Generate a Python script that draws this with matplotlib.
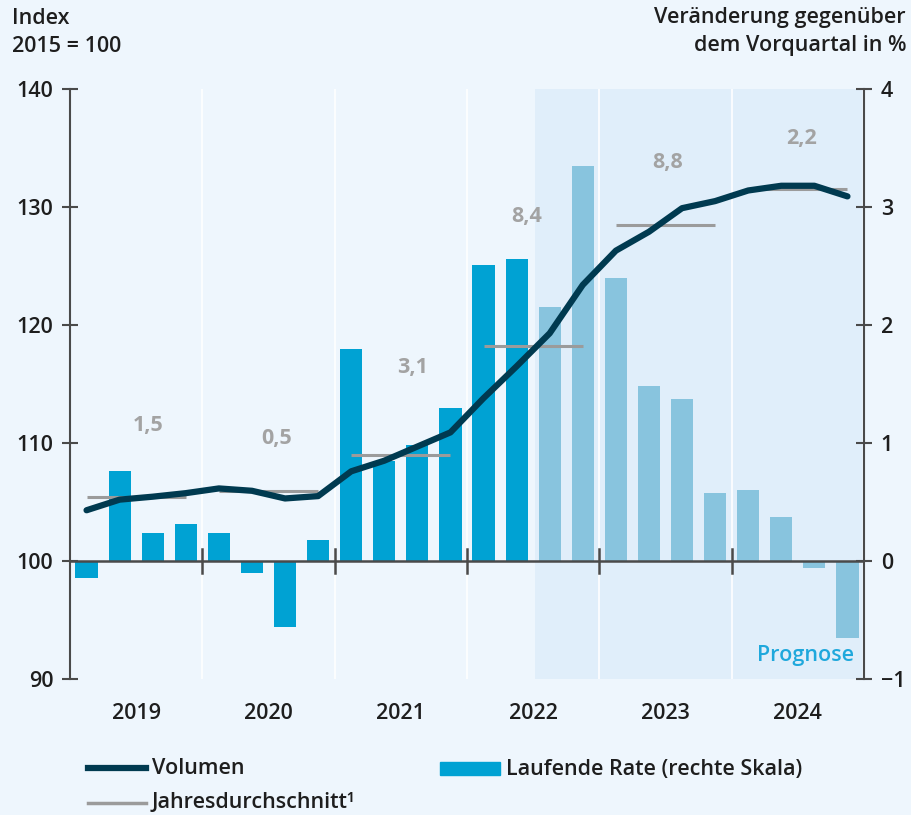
import matplotlib
matplotlib.use("Agg")
import matplotlib.pyplot as plt
from matplotlib.lines import Line2D
from matplotlib.patches import Rectangle
import numpy as np

plt.rcParams['font.family'] = ['Open Sans', 'DejaVu Sans']
W = 'semibold'
FS = 15.5

years = ["2019", "2020", "2021", "2022", "2023", "2024"]
rate = [-0.14, 0.76, 0.24, 0.31,
        0.24, -0.10, -0.56, 0.18,
        1.80, 0.85, 0.98, 1.30,
        2.51, 2.56, 2.15, 3.35,
        2.40, 1.48, 1.37, 0.58,
        0.60, 0.375, -0.06, -0.65]
volumen = [104.3, 105.2, 105.45, 105.75,
           106.15, 105.95, 105.3, 105.5,
           107.6, 108.5, 109.7, 110.9,
           113.8, 116.5, 119.3, 123.4,
           126.3, 127.9, 129.9, 130.5,
           131.4, 131.8, 131.8, 130.9]
jahresdurchschnitt = [105.4, 105.9, 109.0, 118.2, 128.5, 131.5]
jahres_rate = ["1,5", "0,5", "3,1", "8,4", "8,8", "2,2"]
label_level = [111.5, 110.4, 116.4, 129.2, 133.8, 135.8]
label_offset = [0.35, 0.25, 0.35, -0.2, 0.05, 0.1]
forecast_start = 14  # 2022Q3

BG = "#eef6fd"
SHADE = "#e0eefa"
BAR = "#00a2d3"
BAR_F = "#88c4de"
LINE = "#003a50"
AVG = "#9b9b9b"
LBL = "#a3a3a3"
AX = "#4a4a4a"
TXT = "#1e1e1e"

fig = plt.figure(figsize=(9.11, 8.15), dpi=100)
fig.patch.set_facecolor(BG)
ax2 = fig.add_axes([70/911, 1-679/815, (864-70)/911, (679-89)/815])
ax = ax2.twinx()
ax2.yaxis.tick_right()
ax.yaxis.tick_left()
ax.set_zorder(ax2.get_zorder() + 1)
ax.patch.set_visible(False)
ax2.set_facecolor(BG)

n = len(rate)
x = np.arange(n)
ax2.set_xlim(-0.5, n - 0.5)
ax2.set_ylim(-1, 4)
ax.set_ylim(90, 140)

# forecast shading
ax2.axvspan(forecast_start - 0.45, n - 0.55, color=SHADE, zorder=0, lw=0)
# year grid lines
for b in range(1, len(years)):
    ax2.axvline(4 * b - 0.5, color="white", lw=1.3, alpha=0.9, zorder=0.5)

colors = [BAR if i < forecast_start else BAR_F for i in range(n)]
ax2.bar(x, rate, width=0.67, color=colors, zorder=2)

# zero line + year boundary ticks
ax.axhline(100, color=AX, lw=1.8, zorder=3)
for b in range(1, len(years)):
    ax.plot([4 * b - 0.5] * 2, [99.0, 101.0], color=AX, lw=1.8, zorder=3)

# yearly averages
for k, v in enumerate(jahresdurchschnitt):
    ax.plot([4 * k, 4 * k + 3], [v, v], color=AVG, lw=2.2, zorder=4, solid_capstyle='butt')
    ax.text(4 * k + 1.5 + label_offset[k], label_level[k], jahres_rate[k], color=LBL,
            fontsize=FS, fontweight='bold', ha='center', va='center', zorder=6)

ax.plot(x, volumen, color=LINE, lw=4.5, zorder=5, solid_capstyle='round', solid_joinstyle='round')

ax.text(n - 0.8, 92.0, "Prognose", color="#1fa8dc", fontsize=FS, fontweight=W,
        ha='right', va='center', zorder=6)

# axes styling
for a in (ax, ax2):
    for s in a.spines.values():
        s.set_visible(False)
ax.spines['left'].set_visible(True)
ax.spines['left'].set_color(AX)
ax.spines['left'].set_linewidth(1.5)
ax2.spines['right'].set_visible(True)
ax2.spines['right'].set_color(AX)
ax2.spines['right'].set_linewidth(1.5)

ax.set_yticks(np.arange(90, 141, 10))
ax.tick_params(axis='y', direction='inout', length=12, width=1.5, color=AX,
               labelsize=FS, labelcolor=TXT, pad=6)
for t in ax.get_yticklabels():
    t.set_fontweight(W)
ax2.set_yticks(np.arange(-1, 5, 1))
ax2.set_yticklabels(["\u22121", "0", "1", "2", "3", "4"])
ax2.tick_params(axis='y', direction='inout', length=12, width=1.5, color=AX,
                labelsize=FS, labelcolor=TXT, pad=6)
for t in ax2.get_yticklabels():
    t.set_fontweight(W)

ax2.set_xticks([4 * k + 1.5 for k in range(len(years))])
ax2.set_xticklabels(years)
ax2.tick_params(axis='x', length=0, labelsize=FS, labelcolor=TXT, pad=17)
for t in ax2.get_xticklabels():
    t.set_fontweight(W)

# titles
fig.text(12/911, 1-18/815, "Index", fontsize=FS, fontweight=W, color=TXT, va='center', ha='left')
fig.text(12/911, 1-46/815, "2015 = 100", fontsize=FS, fontweight=W, color=TXT, va='center', ha='left')
fig.text(906/911, 1-18/815, "Veränderung gegenüber", fontsize=FS, fontweight=W, color=TXT, va='center', ha='right')
fig.text(906/911, 1-46/815, "dem Vorquartal in %", fontsize=FS, fontweight=W, color=TXT, va='center', ha='right')

# legend
def fx(px): return px / 911
def fy(py): return 1 - py / 815
fig.add_artist(Line2D([fx(88), fx(146)], [fy(768), fy(768)], color=LINE, lw=4.5))
fig.text(fx(152), fy(769), "Volumen", fontsize=FS, fontweight=W, color=TXT, va='center')
fig.add_artist(Rectangle((fx(440), fy(775)), fx(500) - fx(440), fy(762) - fy(775), color=BAR))
fig.add_artist(Line2D([fx(88), fx(146)], [fy(803), fy(803)], color=AVG, lw=2.5))
fig.text(fx(506), fy(769), "Laufende Rate (rechte Skala)", fontsize=FS, fontweight=W, color=TXT, va='center')
fig.text(fx(152), fy(803), "Jahresdurchschnitt\u00b9", fontsize=FS, fontweight=W, color=TXT, va='center')

fig.savefig("out.png", dpi=100, facecolor=BG)
